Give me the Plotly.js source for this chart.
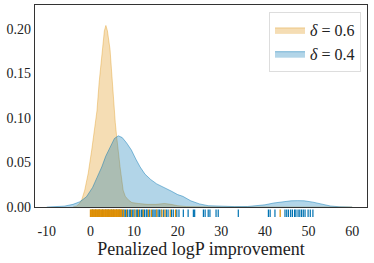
<!DOCTYPE html>
<html>
<head>
<meta charset="utf-8">
<script src="https://cdn.plot.ly/plotly-3.0.1.min.js"></script>
<style>html,body{margin:0;padding:0;background:#fff;}#chart{width:374px;height:263px;}</style>
</head>
<body>
<div id="chart"></div>
<script>
// KDE curve for delta = 0.6
const kde06X = [-4, -3.2, -2.5, -2, -1.3, -0.5, 0.3, 1.0, 1.5, 2.0, 2.7, 3.2, 3.55, 3.9, 4.5, 5.0, 5.4, 5.7, 6.0, 6.4, 6.8, 7.5, 8.0, 8.7, 9.5, 11, 13, 15, 17, 18.5, 20, 22, 25, 30, 40, 50, 60];
const kde06Y = [0, 0.001, 0.004, 0.008, 0.019, 0.038, 0.064, 0.090, 0.108, 0.140, 0.177, 0.198, 0.204, 0.198, 0.177, 0.140, 0.112, 0.095, 0.080, 0.060, 0.045, 0.019, 0.012, 0.008, 0.005, 0.004, 0.003, 0.003, 0.004, 0.003, 0.0015, 0.0005, 0.0001, 0, 0, 0, 0];
// KDE curve for delta = 0.4
const kde04X = [-10, -8, -6, -4, -2.4, -0.9, 0.5, 1.5, 2.6, 3.5, 4.5, 5.5, 6.4, 7.3, 8.3, 9.4, 10.4, 11.4, 12.5, 13.8, 15.2, 16.5, 17.5, 18.5, 20, 21.2, 23, 25, 27, 30, 33, 36, 38, 40, 42, 44, 46, 47.5, 49, 51, 53, 55, 57, 60];
const kde04Y = [0, 0.0003, 0.001, 0.003, 0.006, 0.0115, 0.022, 0.033, 0.045, 0.057, 0.068, 0.077, 0.080, 0.078, 0.072, 0.064, 0.054, 0.045, 0.037, 0.031, 0.026, 0.023, 0.021, 0.018, 0.014, 0.012, 0.007, 0.0035, 0.0015, 0.0007, 0.0005, 0.0006, 0.0012, 0.0025, 0.0045, 0.006, 0.007, 0.0072, 0.007, 0.0055, 0.003, 0.0012, 0.0003, 0];
// rug samples
const rug06 = [0.0, 0.15, 0.3, 0.45, 0.6, 0.75, 0.9, 1.05, 1.2, 1.35, 1.5, 1.65, 1.8, 1.95, 2.1, 2.25, 2.4, 2.55, 2.7, 2.85, 3.0, 3.15, 3.3, 3.45, 3.6, 3.75, 3.9, 4.05, 4.2, 4.35, 4.5, 4.65, 4.8, 4.95, 5.1, 5.25, 5.4, 5.55, 5.7, 5.85, 6.0, 6.15, 6.3, 6.45, 6.6, 6.75, 6.9, 7.05, 7.2, 7.6, 8.3, 9.4, 10.2, 11.0, 12.1, 13.3, 14.0, 15.2, 16.4, 17.1, 18.3, 19.5, 43.5];
const rug04 = [0.5, 1.2, 2.0, 2.8, 3.5, 4.1, 4.8, 5.3, 6.0, 6.6, 7.3, 7.7, 8.0, 8.5, 8.9, 9.2, 9.7, 10.0, 10.5, 10.8, 11.3, 11.7, 12.0, 12.4, 12.8, 13.0, 13.6, 14.3, 14.6, 15.0, 15.5, 15.8, 16.2, 16.8, 17.4, 17.8, 18.6, 19.0, 19.8, 20.3, 21.3, 22.4, 23.6, 23.9, 25.9, 26.3, 27.0, 27.4, 28.8, 29.3, 33.9, 40.8, 41.2, 42.3, 44.6, 45.0, 45.4, 45.9, 46.3, 46.8, 47.1, 47.6, 48.0, 48.4, 48.8, 49.2, 49.9, 50.4, 51.0];
const seriesNames = ['<i>δ</i> = 0.6', '<i>δ</i> = 0.4'];
const yTicks = [0, 0.05, 0.10, 0.15, 0.20];
const xTicks = [-10, 0, 10, 20, 30, 40, 50, 60];

const orange = '#DE8F05', blue = '#0173B2';
const font = "'Liberation Serif', 'DejaVu Serif', serif";

const traces = [
  {x: kde06X, y: kde06Y, type: 'scatter', mode: 'lines', fill: 'tozeroy', name: seriesNames[0],
   fillcolor: 'rgba(222,143,5,0.3)', line: {color: 'rgba(222,143,5,0.35)', width: 1}, hoverinfo: 'skip'},
  {x: kde04X, y: kde04Y, type: 'scatter', mode: 'lines', fill: 'tozeroy', name: seriesNames[1],
   fillcolor: 'rgba(1,115,178,0.3)', line: {color: 'rgba(1,115,178,0.45)', width: 1}, hoverinfo: 'skip'},
  {x: rug04, y: rug04.map(() => 0), xaxis: 'x', yaxis: 'y2', type: 'scatter', mode: 'markers', showlegend: false, hoverinfo: 'skip',
   marker: {symbol: 'line-ns', size: 7, line: {width: 1.2, color: blue}}},
  {x: rug06, y: rug06.map(() => 0), xaxis: 'x', yaxis: 'y2', type: 'scatter', mode: 'markers', showlegend: false, hoverinfo: 'skip',
   marker: {symbol: 'line-ns', size: 7, line: {width: 1.2, color: orange}}}
];

const layout = {
  width: 374, height: 263,
  margin: {l: 35, r: 7, t: 5, b: 46},
  paper_bgcolor: '#fff', plot_bgcolor: '#fff',
  font: {family: font, color: '#222', size: 14},
  showlegend: true,
  legend: {x: 0.982, y: 0.967, xanchor: 'right', yanchor: 'top', bgcolor: '#fff', bordercolor: '#ddd', borderwidth: 1,
           font: {family: font, size: 16, color: '#222'}, tracegroupgap: 0},
  xaxis: {range: [-12.7, 63.4], tickvals: xTicks, ticktext: xTicks.map(String), anchor: 'y',
          showgrid: false, zeroline: false, showline: true, mirror: true, linecolor: '#333', linewidth: 1.3,
          ticks: '', ticklabelstandoff: 11, tickfont: {family: font, size: 14},
          title: {text: 'Penalized logP improvement', font: {family: font, size: 18}, standoff: 0}},
  yaxis: {domain: [0.047, 1], range: [0, 0.227], tickvals: yTicks, ticktext: yTicks.map(v => v.toFixed(2)),
          showgrid: false, zeroline: false, showline: true, mirror: true, linecolor: '#333', linewidth: 1.3,
          ticks: '', tickfont: {family: font, size: 14}},
  yaxis2: {domain: [0, 0.035], range: [-1, 1], visible: false, fixedrange: true}
};

Plotly.newPlot('chart', traces, layout, {displayModeBar: false, staticPlot: true});
</script>
</body>
</html>
